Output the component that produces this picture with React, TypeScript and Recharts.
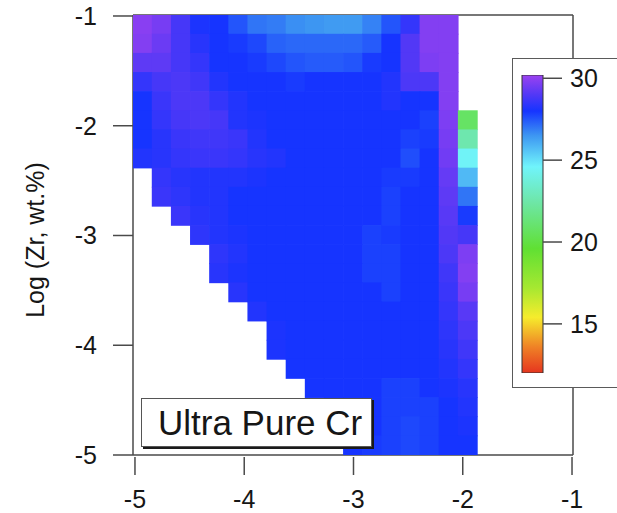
import React from 'react';
import {
  ScatterChart,
  Scatter,
  XAxis,
  YAxis,
  ReferenceLine,
  BarChart,
  Bar,
} from 'recharts';

// ---------- data ----------
const xTicks = [-5, -4, -3, -2, -1];
const yTicks = [-5, -4, -3, -2, -1];
const colorTicks = [15, 20, 25, 30];
const colorRange: [number, number] = [12.0, 30.2];
const xDomain: [number, number] = [-5.018, -0.991];
const yDomain: [number, number] = [-5.0, -0.991];
const gridCount = 23; // cells across the frame in each direction
const panelLabel = 'Ultra Pure Cr';
const yTitle = 'Log (Zr, wt.%)';

const _ = null;
// rows from top (Log Zr ≈ -1) to bottom (≈ -5), columns from left (x ≈ -5)
const zRows: (number | null)[][] = [
  [29.9, 29.6, 28.8, 28.1, 28.0, 27.5, 27.0, 26.9, 26.6, 26.5, 26.4, 26.4, 26.8, 27.5, 28.5, 29.8, 29.8, _],
  [29.8, 29.4, 28.8, 28.3, 28.0, 27.9, 27.7, 27.3, 27.2, 27.2, 27.2, 27.2, 27.4, 28.0, 29.0, 29.8, 29.8, _],
  [29.2, 29.2, 28.8, 28.5, 28.0, 28.0, 27.9, 27.7, 27.5, 27.4, 27.4, 27.5, 27.9, 28.0, 29.0, 29.7, 29.8, _],
  [28.5, 28.8, 28.9, 28.7, 28.2, 28.0, 28.0, 28.0, 27.9, 28.0, 28.0, 28.0, 28.0, 28.2, 28.9, 28.9, 29.8, _],
  [28.0, 28.6, 28.9, 28.9, 28.5, 28.2, 28.0, 28.0, 28.0, 28.0, 28.0, 28.0, 28.0, 28.2, 28.0, 28.0, 29.8, _],
  [28.0, 28.5, 28.8, 28.9, 28.8, 28.2, 28.1, 28.0, 28.0, 28.0, 28.0, 28.0, 28.0, 28.0, 28.0, 27.8, 29.7, 20.8],
  [28.0, 28.3, 28.6, 28.7, 28.7, 28.6, 28.2, 28.0, 28.0, 28.0, 28.0, 28.0, 28.0, 28.0, 27.8, 27.9, 29.6, 22.6],
  [28.2, 28.3, 28.5, 28.6, 28.6, 28.5, 28.3, 28.2, 28.0, 28.0, 28.0, 28.0, 28.0, 28.0, 27.6, 28.0, 29.5, 24.5],
  [_, 28.5, 28.3, 28.2, 28.2, 28.2, 28.1, 28.0, 28.0, 28.0, 28.0, 28.0, 28.0, 27.9, 27.9, 28.0, 29.3, 25.8],
  [_, 28.6, 28.4, 28.2, 28.2, 28.0, 28.0, 28.0, 28.0, 28.0, 28.0, 28.0, 28.0, 27.8, 28.0, 28.0, 29.2, 27.0],
  [_, _, 28.6, 28.3, 28.2, 28.0, 28.0, 28.0, 28.0, 28.0, 28.0, 28.0, 28.0, 27.8, 28.0, 28.0, 29.1, 27.9],
  [_, _, _, 28.4, 28.2, 28.1, 28.0, 28.0, 28.0, 28.0, 28.0, 28.0, 27.8, 27.9, 28.0, 28.0, 29.0, 28.8],
  [_, _, _, _, 28.4, 28.2, 28.0, 28.0, 28.0, 28.0, 28.0, 28.0, 27.8, 27.8, 28.0, 28.0, 28.9, 29.7],
  [_, _, _, _, 28.3, 28.1, 28.0, 28.0, 28.0, 28.0, 28.0, 28.0, 27.8, 27.8, 28.0, 28.0, 28.7, 29.8],
  [_, _, _, _, _, 28.3, 28.0, 28.0, 28.0, 28.0, 28.0, 28.0, 28.0, 27.8, 28.0, 28.0, 28.6, 29.6],
  [_, _, _, _, _, _, 28.2, 28.0, 28.0, 28.0, 28.0, 28.0, 28.0, 28.0, 28.0, 28.0, 28.5, 29.1],
  [_, _, _, _, _, _, _, 28.1, 28.0, 28.0, 28.0, 28.0, 28.0, 28.0, 28.0, 28.0, 28.4, 28.9],
  [_, _, _, _, _, _, _, 28.1, 28.0, 28.0, 28.0, 28.0, 28.0, 28.0, 28.0, 28.0, 28.3, 28.7],
  [_, _, _, _, _, _, _, _, 28.0, 28.0, 28.0, 28.0, 28.0, 28.0, 28.0, 28.0, 28.2, 28.5],
  [_, _, _, _, _, _, _, _, _, 28.0, 28.0, 28.0, 28.0, 27.8, 27.8, 28.0, 28.1, 28.3],
  [_, _, _, _, _, _, _, _, _, _, 28.0, 28.0, 28.0, 27.8, 27.8, 27.8, 28.0, 28.2],
  [_, _, _, _, _, _, _, _, _, _, 28.0, 28.0, 28.0, 27.8, 27.7, 27.8, 28.0, 28.1],
  [_, _, _, _, _, _, _, _, _, _, _, 28.0, 27.9, 27.8, 27.7, 27.8, 28.0, 28.0],
];

const colorStops: [number, string][] = [
  [12.0, '#e5351f'],
  [13.6, '#ef8226'],
  [15.4, '#f6ec2c'],
  [17.2, '#a6e831'],
  [19.6, '#60e033'],
  [22.4, '#6ee6a6'],
  [24.6, '#70f4fb'],
  [26.5, '#3d96f2'],
  [28.0, '#1634ff'],
  [29.0, '#5238f6'],
  [30.2, '#9c42f0'],
];

// ---------- helpers ----------
const hex = (c: string) => [
  parseInt(c.slice(1, 3), 16),
  parseInt(c.slice(3, 5), 16),
  parseInt(c.slice(5, 7), 16),
];
const colorFor = (v: number) => {
  if (v <= colorStops[0][0]) return colorStops[0][1];
  for (let i = 1; i < colorStops.length; i++) {
    const [v1, c1] = colorStops[i];
    const [v0, c0] = colorStops[i - 1];
    if (v <= v1) {
      const t = (v - v0) / (v1 - v0);
      const a = hex(c0);
      const b = hex(c1);
      const m = a.map((q, k) => Math.round(q + (b[k] - q) * t));
      return `rgb(${m[0]},${m[1]},${m[2]})`;
    }
  }
  return colorStops[colorStops.length - 1][1];
};

const dx = (xDomain[1] - xDomain[0]) / gridCount;
const dy = (yDomain[1] - yDomain[0]) / gridCount;

const cells: { x: number; y: number; v: number }[] = [];
zRows.forEach((row, r) => {
  row.forEach((v, c) => {
    if (v == null) return;
    cells.push({
      x: xDomain[0] + (c + 0.5) * dx,
      y: yDomain[1] - (r + 0.5) * dy,
      v,
    });
  });
});

// ---------- layout ----------
const W = 617;
const H = 513;
const PLOT_LEFT = 133;
const PLOT_TOP = 15;
const PLOT_W = 440;
const PLOT_H = 440;
const CELL_W = PLOT_W / gridCount;
const CELL_H = PLOT_H / gridCount;
const FONT = '"Liberation Sans", Arial, Helvetica, sans-serif';
const TEXT = '#161616';
const AXIS = '#4a4a4a';

const CellShape = (props: any) => {
  const { cx, cy, payload } = props;
  if (cx == null || cy == null || !payload) return null;
  return (
    <rect
      x={cx - CELL_W / 2 - 0.35}
      y={cy - CELL_H / 2 - 0.35}
      width={CELL_W + 0.7}
      height={CELL_H + 0.7}
      fill={colorFor(payload.v)}
    />
  );
};

const XTick = (props: any) => {
  const { x, y, payload } = props;
  return (
    <g>
      <line x1={x} x2={x} y1={y + 2} y2={y + 20} stroke={AXIS} strokeWidth={1.5} />
      <text x={x} y={y + 53} textAnchor="middle" fontSize={25} fontFamily={FONT} fill={TEXT}>
        {payload.value}
      </text>
    </g>
  );
};

const YTick = (props: any) => {
  const { x, y, payload } = props;
  return (
    <g>
      <line x1={x - 20} x2={x} y1={y} y2={y} stroke={AXIS} strokeWidth={1.5} />
      <text x={x - 36} y={y + 9} textAnchor="end" fontSize={25} fontFamily={FONT} fill={TEXT}>
        {payload.value}
      </text>
    </g>
  );
};

const CbTick = (props: any) => {
  const { x, y, payload } = props;
  return (
    <g>
      <line x1={x} x2={x + 19} y1={y} y2={y} stroke={AXIS} strokeWidth={1.5} />
      <text x={x + 27} y={y + 9} textAnchor="start" fontSize={25} fontFamily={FONT} fill={TEXT}>
        {payload.value}
      </text>
    </g>
  );
};

const YTitle = (props: any) => {
  const vb = props.viewBox || { x: 0, y: PLOT_TOP, width: PLOT_LEFT, height: PLOT_H };
  const cx = vb.x + 35;
  const cy = vb.y + vb.height / 2 + 5;
  return (
    <text
      x={cx}
      y={cy}
      transform={`rotate(-90 ${cx} ${cy})`}
      textAnchor="middle"
      dominantBaseline="central"
      fontSize={25}
      fontFamily={FONT}
      fill={TEXT}
    >
      {yTitle}
    </text>
  );
};

const colorBarData = [{ name: 'z', span: colorRange }];
const cbSpan = colorRange[1] - colorRange[0];

export default function App() {
  return (
    <div style={{ position: 'absolute', left: 0, top: 0, width: W, height: H, background: '#fff', overflow: 'hidden' }}>
      <ScatterChart
        width={W}
        height={H}
        margin={{ top: PLOT_TOP, right: W - PLOT_LEFT - PLOT_W, bottom: 0, left: 0 }}
      >
        <XAxis
          type="number"
          dataKey="x"
          domain={xDomain}
          ticks={xTicks}
          interval={0}
          allowDataOverflow
          height={H - PLOT_TOP - PLOT_H}
          tickSize={0}
          tickMargin={0}
          tickLine={false}
          axisLine={{ stroke: AXIS, strokeWidth: 1.5 }}
          tick={<XTick />}
        />
        <YAxis
          type="number"
          dataKey="y"
          domain={yDomain}
          ticks={yTicks}
          interval={0}
          allowDataOverflow
          width={PLOT_LEFT}
          tickSize={0}
          tickMargin={0}
          tickLine={false}
          axisLine={{ stroke: AXIS, strokeWidth: 1.5 }}
          tick={<YTick />}
          label={{ content: <YTitle /> } as any}
        />
        <Scatter data={cells} shape={<CellShape />} isAnimationActive={false} />
        <ReferenceLine y={yDomain[1]} stroke={AXIS} strokeWidth={1.5} ifOverflow="visible" />
        <ReferenceLine x={xDomain[1]} stroke={AXIS} strokeWidth={1.5} ifOverflow="visible" />
      </ScatterChart>

      {/* colour-scale legend box */}
      <div
        style={{
          position: 'absolute',
          left: 512,
          top: 58,
          width: W - 512,
          height: 330,
          boxSizing: 'border-box',
          background: '#fff',
          borderLeft: '1.5px solid #5a5a5a',
          borderTop: '1.5px solid #5a5a5a',
          borderBottom: '1.5px solid #5a5a5a',
        }}
      />
      <div style={{ position: 'absolute', left: 512, top: 58 }}>
        <BarChart
          width={W - 512}
          height={330}
          data={colorBarData}
          margin={{ top: 17, right: 0, bottom: 15, left: 10 }}
          barCategoryGap={0}
          barGap={0}
        >
          <defs>
            <linearGradient id="cbGrad" x1="0" y1="0" x2="0" y2="1">
              {colorStops
                .slice()
                .reverse()
                .map(([v, c]) => (
                  <stop key={v} offset={`${((colorRange[1] - v) / cbSpan) * 100}%`} stopColor={c} />
                ))}
            </linearGradient>
          </defs>
          <XAxis dataKey="name" hide />
          <YAxis
            orientation="right"
            type="number"
            domain={colorRange}
            ticks={colorTicks}
            interval={0}
            allowDataOverflow
            width={W - 512 - 10 - 21}
            tickSize={0}
            tickMargin={0}
            tickLine={false}
            axisLine={false}
            tick={<CbTick />}
          />
          <Bar dataKey="span" fill="url(#cbGrad)" stroke="#333" strokeWidth={1} isAnimationActive={false} />
        </BarChart>
      </div>

      {/* panel label */}
      <div
        style={{
          position: 'absolute',
          left: 143,
          top: 400,
          width: 231,
          height: 49,
          background: '#1a1a1a',
        }}
      />
      <div
        style={{
          position: 'absolute',
          left: 141,
          top: 398,
          width: 231,
          height: 49,
          boxSizing: 'border-box',
          background: '#fff',
          border: '1px solid #555',
        }}
      >
        <svg width={231} height={49} style={{ position: 'absolute', left: -1, top: -1 }}>
          <text x={17} y={37} fontSize={35} fontFamily={FONT} fill={TEXT}>
            {panelLabel}
          </text>
        </svg>
      </div>
    </div>
  );
}
